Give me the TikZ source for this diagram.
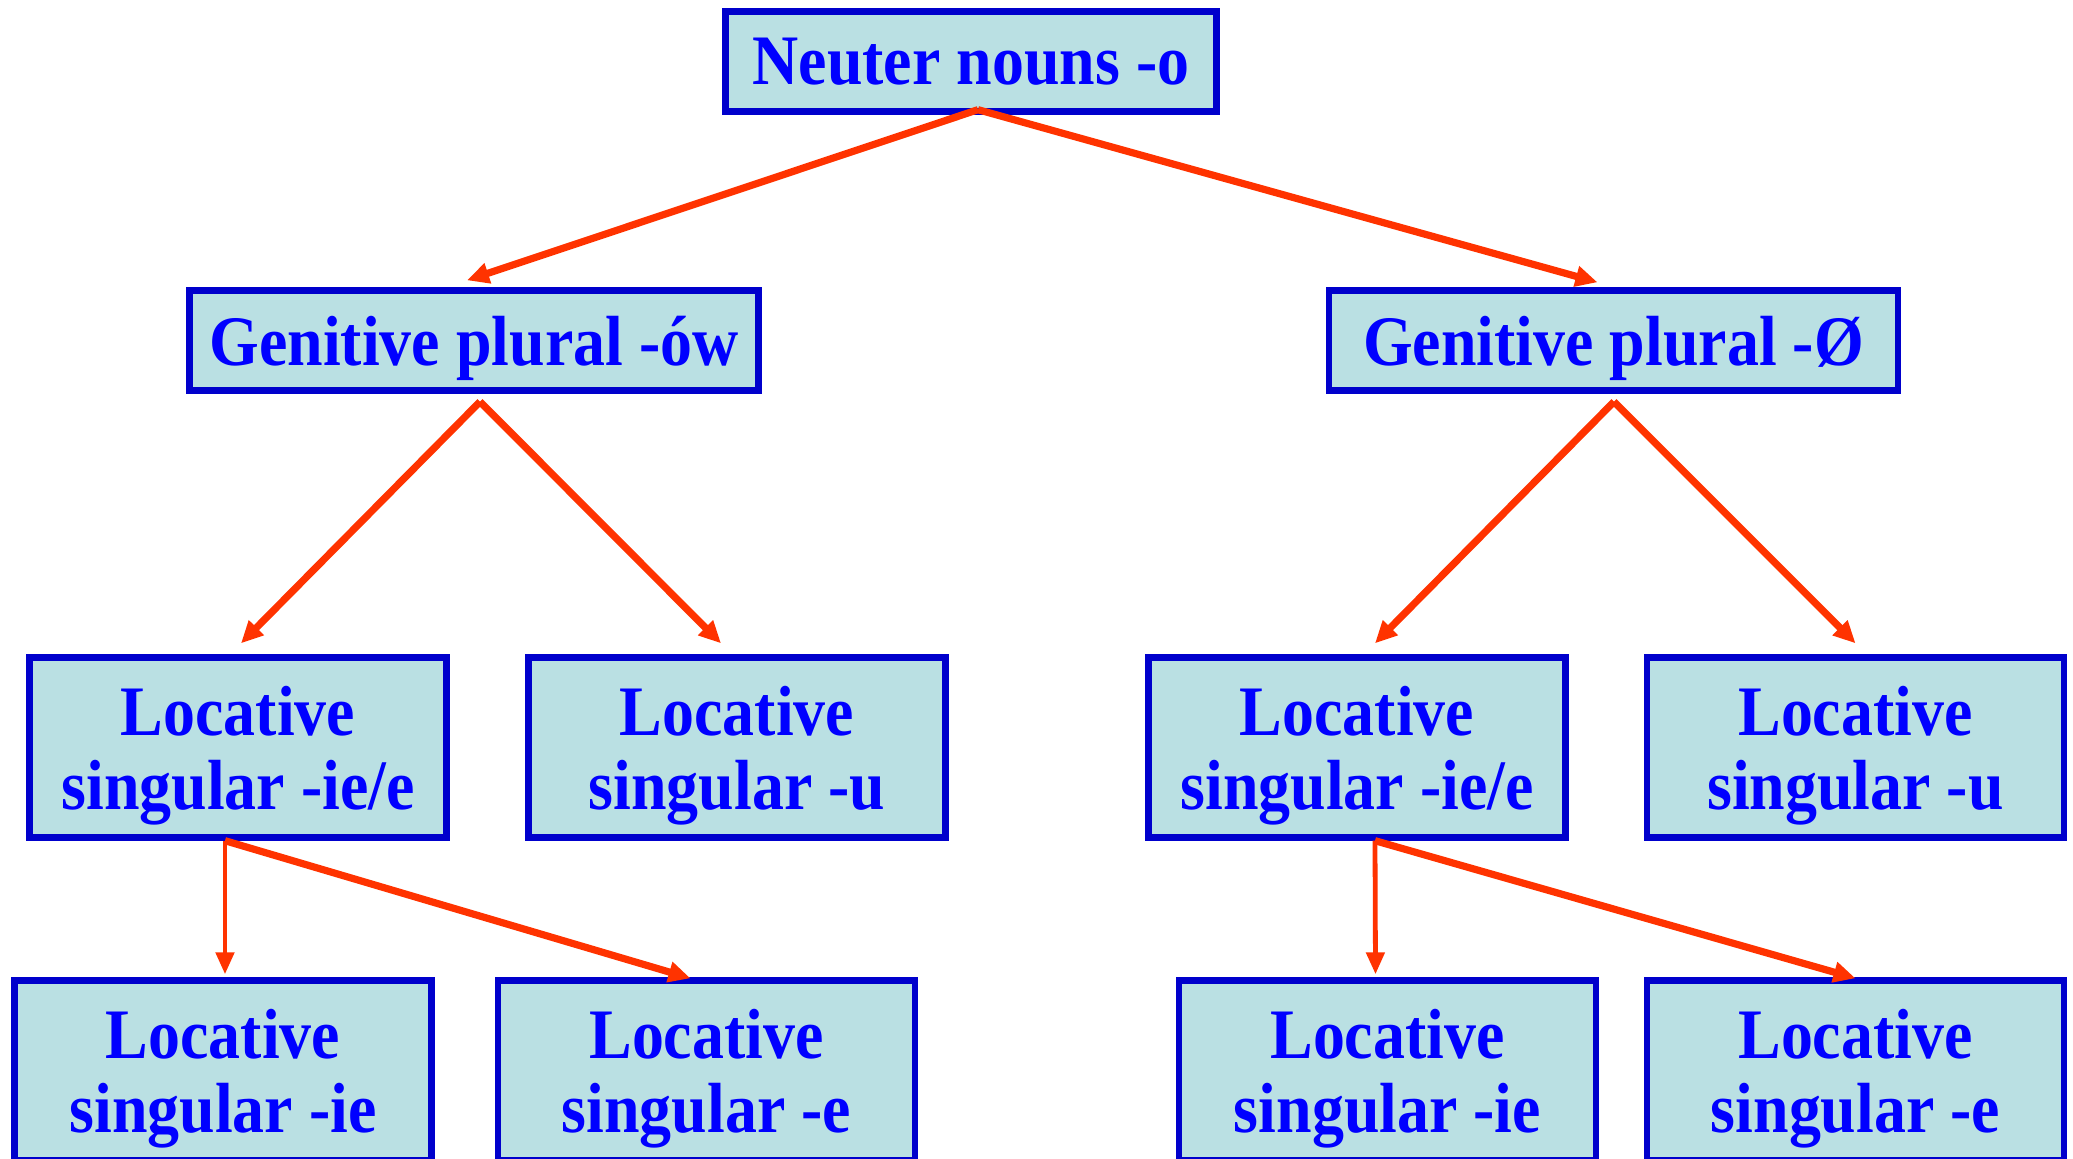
\documentclass[tikz,border=0pt]{standalone}
\usepackage{fontspec}
\setmainfont{Liberation Serif}[FakeStretch=0.9]
\usetikzlibrary{arrows.meta,calc}
\definecolor{boxfill}{HTML}{BAE0E3}
\definecolor{boxline}{HTML}{0000CC}
\definecolor{txtblue}{HTML}{0000FF}
\definecolor{arrred}{HTML}{FF3300}
\begin{document}
\begin{tikzpicture}[x=0.5pt,y=-0.5pt,
  box/.style={draw=boxline,fill=boxfill,line width=3.2pt,text=txtblue,
    font=\fontsize{35.5}{37}\selectfont\bfseries,align=center,inner sep=0pt,text depth=0pt},
  topbox/.style={box,minimum width=245.5pt,minimum height=50pt},
  genbox/.style={box,minimum width=284.5pt,minimum height=50pt},
  locbox/.style={box,minimum width=208.5pt,minimum height=90pt},
  arr/.style={draw=arrred,line width=3.6pt,-{Triangle[length=11pt,width=10pt]}},
  arrv/.style={draw=arrred,line width=2.4pt,-{Triangle[length=11pt,width=9pt]}}]
\useasboundingbox (0,0) rectangle (2073,1159);
\clip (0,0) rectangle (2073,1159);
\node[topbox] (top) at (971,61.5) {Neuter nouns -o};
\node[genbox] (genl) at (474,340.5) {Genitive plural -ów};
\node[genbox] (genr) at (1613.5,340.5) {Genitive plural -Ø};
\node[locbox] (la) at (238,747.5) {Locative\\singular -ie/e};
\node[locbox] (lb) at (737,747.5) {Locative\\singular -u};
\node[locbox] (lc) at (1357,747.5) {Locative\\singular -ie/e};
\node[locbox] (ld) at (1855.5,747.5) {Locative\\singular -u};
\node[locbox] (ba) at (223,1070.5) {Locative\\singular -ie};
\node[locbox] (bb) at (706.5,1070.5) {Locative\\singular -e};
\node[locbox] (bc) at (1387.5,1070.5) {Locative\\singular -ie};
\node[locbox] (bd) at (1855.5,1070.5) {Locative\\singular -e};
\draw[arr] ($(top.south)+(7,-5)$) -- ($(genl.north)+(-7,-7)$);
\draw[arr] ($(top.south)+(7,-5)$) -- ($(genr.north)+(-16,-5)$);
\draw[arr] ($(genl.south)+(6,8)$) -- ($(la.north)+(3,-11)$);
\draw[arr] ($(genl.south)+(6,8)$) -- ($(lb.north)+(-16,-11)$);
\draw[arr] ($(genr.south)+(0.5,8)$) -- ($(lc.north)+(18,-11)$);
\draw[arr] ($(genr.south)+(0.5,8)$) -- ($(ld.north)+(0,-11)$);
\draw[arrv] ($(la.south)+(-13,0)$) -- ($(ba.north)+(2,-3)$);
\draw[arr] ($(la.south)+(-13,0)$) -- ($(bb.north)+(-16,1)$);
\draw[arrv] ($(lc.south)+(18,0)$) -- ($(bc.north)+(-12,-3)$);
\draw[arr] ($(lc.south)+(18,0)$) -- ($(bd.north)+(0,1)$);
\end{tikzpicture}
\end{document}
